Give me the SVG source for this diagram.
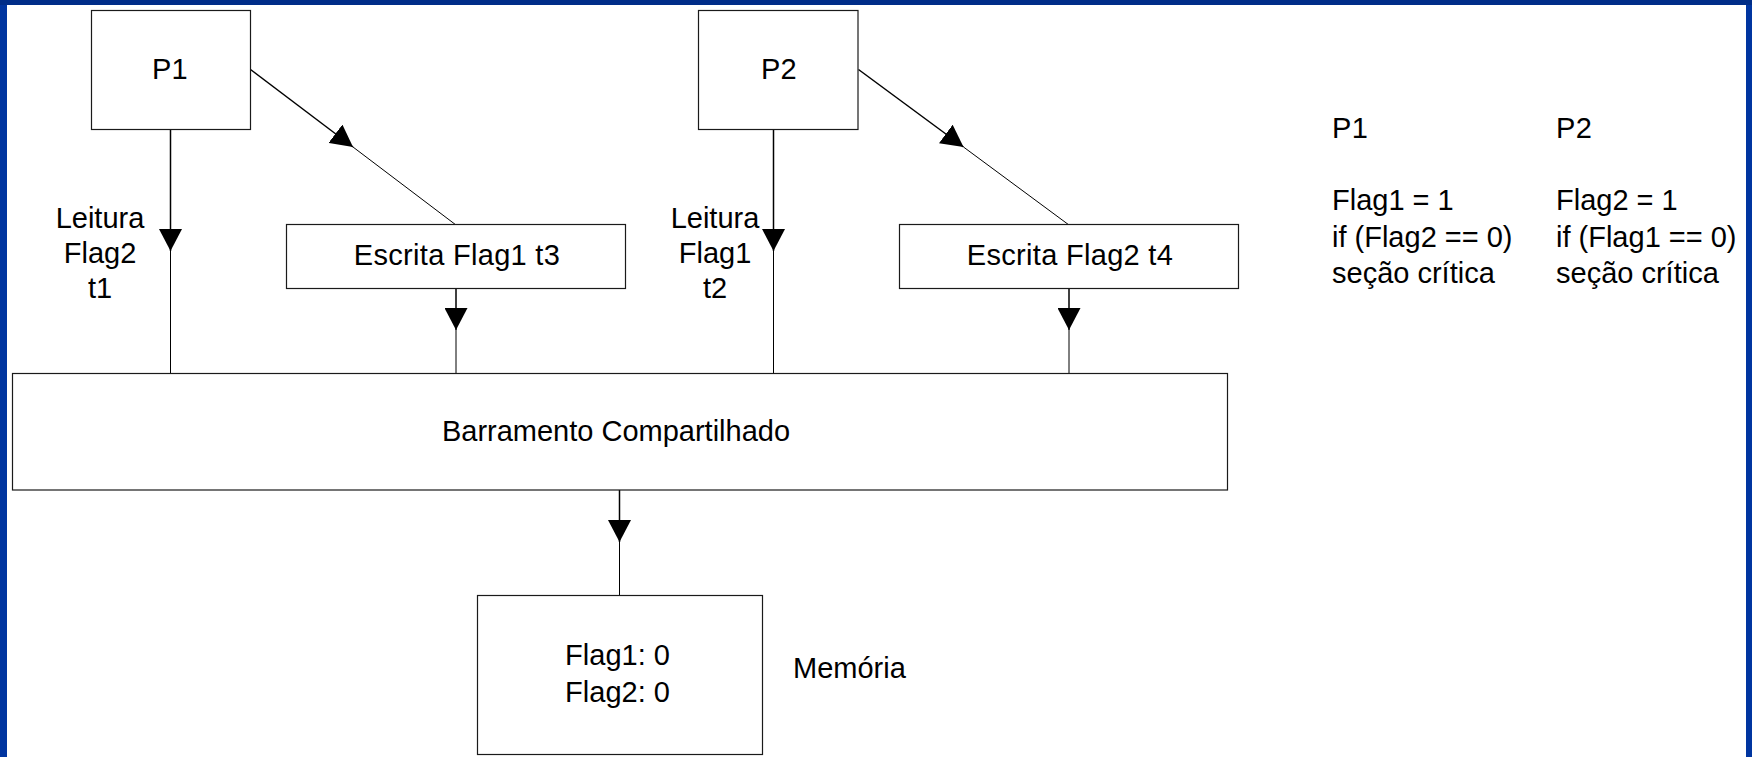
<svg xmlns="http://www.w3.org/2000/svg" width="1752" height="757" viewBox="0 0 1752 757">
  <style>
    .box { fill: #ffffff; stroke: #1a1a1a; stroke-width: 1.2; }
    .lbl { font-family: "Liberation Sans", Arial, sans-serif; font-size: 29px; fill: #000000; }
    .mid { text-anchor: middle; }
    .wide { letter-spacing: 0.3px; }
    .lead { stroke: #000000; stroke-width: 1.5; fill: none; }
    .tail { stroke: #000000; stroke-width: 1; fill: none; }
  </style>
  <defs>
    <marker id="arrow" markerUnits="userSpaceOnUse" viewBox="0 0 22 23" refX="22" refY="11.5" markerWidth="22" markerHeight="23" orient="auto">
      <path d="M0,0 L22,11.5 L0,23 z" fill="#000000"/>
    </marker>
  </defs>

  <!-- page background and frame -->
  <rect x="0" y="0" width="1752" height="757" fill="#ffffff"/>
  <rect x="0" y="0" width="7" height="757" fill="#0035a0"/>
  <rect x="1746" y="0" width="6" height="757" fill="#0035a0"/>
  <rect x="0" y="0" width="1752" height="5" fill="#002d88"/>

  <!-- connectors: heavy lead-in carries the arrowhead, thin tail finishes the run -->
  <g id="connectors">
    <line class="lead" x1="170.5" y1="130" x2="170.5" y2="251" marker-end="url(#arrow)"/>
    <line class="tail" x1="170.5" y1="251" x2="170.5" y2="373"/>

    <line class="lead" x1="250.5" y1="69.5" x2="353" y2="147" marker-end="url(#arrow)"/>
    <line class="tail" x1="353" y1="147" x2="456" y2="225"/>

    <line class="lead" x1="456" y1="289" x2="456" y2="330" marker-end="url(#arrow)"/>
    <line class="tail" x1="456" y1="330" x2="456" y2="373"/>

    <line class="lead" x1="773.5" y1="130" x2="773.5" y2="251" marker-end="url(#arrow)"/>
    <line class="tail" x1="773.5" y1="251" x2="773.5" y2="373"/>

    <line class="lead" x1="858.5" y1="69.5" x2="963.5" y2="147" marker-end="url(#arrow)"/>
    <line class="tail" x1="963.5" y1="147" x2="1069" y2="225"/>

    <line class="lead" x1="1069" y1="289" x2="1069" y2="330" marker-end="url(#arrow)"/>
    <line class="tail" x1="1069" y1="330" x2="1069" y2="373"/>

    <line class="lead" x1="619.5" y1="490" x2="619.5" y2="542" marker-end="url(#arrow)"/>
    <line class="tail" x1="619.5" y1="542" x2="619.5" y2="596"/>
  </g>

  <g id="p1">
    <rect class="box" x="91.5" y="10.5" width="159" height="119"/>
    <text class="lbl mid wide" x="170" y="79">P1</text>
  </g>

  <g id="p2">
    <rect class="box" x="698.5" y="10.5" width="159.5" height="119"/>
    <text class="lbl mid wide" x="779" y="79">P2</text>
  </g>

  <g id="read-p1">
    <text class="lbl mid" x="100" y="228">Leitura<tspan x="100" dy="34.5">Flag2</tspan><tspan x="100" dy="35">t1</tspan></text>
  </g>

  <g id="read-p2">
    <text class="lbl mid" x="715" y="228">Leitura<tspan x="715" dy="34.5">Flag1</tspan><tspan x="715" dy="35">t2</tspan></text>
  </g>

  <g id="write-flag1">
    <rect class="box" x="286.5" y="224.5" width="339" height="64"/>
    <text class="lbl mid wide" x="457" y="265">Escrita Flag1 t3</text>
  </g>

  <g id="write-flag2">
    <rect class="box" x="899.5" y="224.5" width="339" height="64"/>
    <text class="lbl mid wide" x="1070" y="265">Escrita Flag2 t4</text>
  </g>

  <g id="bus">
    <rect class="box" x="12.5" y="373.5" width="1215" height="116.5"/>
    <text class="lbl mid" x="616" y="441">Barramento Compartilhado</text>
  </g>

  <g id="memory">
    <rect class="box" x="477.5" y="595.5" width="285" height="159"/>
    <text class="lbl mid" x="617.5" y="665">Flag1: 0<tspan x="617.5" dy="36.5">Flag2: 0</tspan></text>
    <text class="lbl" x="793" y="678">Memória</text>
  </g>

  <g id="code-p1">
    <text class="lbl wide" x="1332" y="138">P1</text>
    <text class="lbl" x="1332" y="210">Flag1 = 1<tspan x="1332" dy="36.5">if (Flag2 == 0)</tspan><tspan x="1332" dy="36.5">seção crítica</tspan></text>
  </g>

  <g id="code-p2">
    <text class="lbl wide" x="1556" y="138">P2</text>
    <text class="lbl" x="1556" y="210">Flag2 = 1<tspan x="1556" dy="36.5">if (Flag1 == 0)</tspan><tspan x="1556" dy="36.5">seção crítica</tspan></text>
  </g>
</svg>
